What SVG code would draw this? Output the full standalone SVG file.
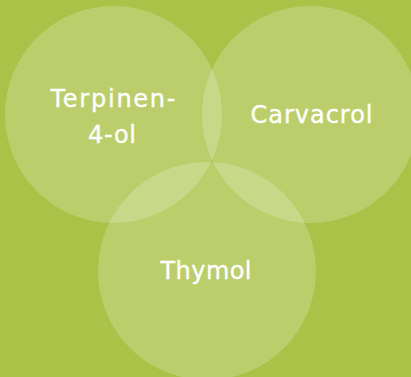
<svg xmlns="http://www.w3.org/2000/svg" width="411" height="377" viewBox="0 0 411 377">
<style>
.c{fill:#ffffff;fill-opacity:0.2}
.t{font-family:"DejaVu Sans","Liberation Sans",sans-serif;font-size:24px;fill:#ffffff;stroke:#ffffff;stroke-width:0.35px;text-anchor:middle}
</style>
<rect width="411" height="377" fill="#aac247"/>
<g id="node-terpinen">
<circle class="c" cx="113.5" cy="114.5" r="108.5"/>
<text class="t" x="113" y="106.5" textLength="125">Terpinen-</text>
<text class="t" x="112" y="142.5" textLength="48">4-ol</text>
</g>
<g id="node-carvacrol">
<circle class="c" cx="310.5" cy="114.5" r="108.5"/>
<text class="t" x="311.5" y="123.3" textLength="122">Carvacrol</text>
</g>
<g id="node-thymol">
<circle class="c" cx="207" cy="271" r="109"/>
<text class="t" x="206" y="279.3" textLength="91">Thymol</text>
</g>
<g id="connectors"/>
</svg>
